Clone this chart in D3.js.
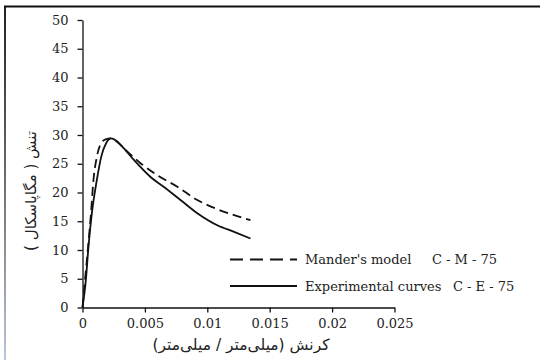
<!DOCTYPE html>
<html>
<head>
<meta charset="utf-8">
<script src="https://cdn.jsdelivr.net/npm/d3@7"></script>
<style>
  body { margin: 0; background: #fff; }
  svg { display: block; }
</style>
</head>
<body>
<script>
// Mander's model C-M-75 (strain, stress MPa)
const manderStrain = [0, 0.0002, 0.00045, 0.00068, 0.00088, 0.00115, 0.0015, 0.0019, 0.0022, 0.00265, 0.00345, 0.00465, 0.006, 0.0076, 0.0092, 0.0108, 0.0121, 0.01346];
const manderStress = [0, 4.8, 10.6, 16.4, 22.2, 26.2, 28.6, 29.3, 29.4, 29.0, 27.4, 25.1, 23.0, 21.0, 18.7, 17.1, 16.1, 15.2];

// Experimental curves C-E-75
const expStrain = [0, 0.00027, 0.00048, 0.00075, 0.00115, 0.0015, 0.0019, 0.0023, 0.0027, 0.0033, 0.0041, 0.00545, 0.0065, 0.00785, 0.0092, 0.0108, 0.0121, 0.01346];
const expStress = [0, 4.8, 10.6, 16.4, 22.2, 26.2, 28.6, 29.4, 29.0, 27.7, 25.7, 22.7, 21.0, 18.7, 16.4, 14.3, 13.2, 12.0];

const xTicks = [0, 0.005, 0.01, 0.015, 0.02, 0.025];
const yTicks = [0, 5, 10, 15, 20, 25, 30, 35, 40, 45, 50];

const seriesNames = ["Mander's model", "Experimental curves"];
const seriesCodes = ["C - M - 75", "C - E - 75"];

const SERIF = "DejaVu Serif";
const FA = "DejaVu Sans";

const W = 540, H = 360;
const svg = d3.select("body").append("svg").attr("width", W).attr("height", H);

// frame (top + left edge, left fades out)
const defs = svg.append("defs");
const grad = defs.append("linearGradient").attr("id", "leftEdge")
  .attr("x1", 0).attr("y1", 0).attr("x2", 0).attr("y2", 1);
grad.append("stop").attr("offset", "0%").attr("stop-color", "#222");
grad.append("stop").attr("offset", "45%").attr("stop-color", "#666");
grad.append("stop").attr("offset", "100%").attr("stop-color", "#b9c6da");
svg.append("rect").attr("x", 4).attr("y", 6).attr("width", 2).attr("height", H - 6).attr("fill", "url(#leftEdge)");
svg.append("line").attr("x1", 4).attr("x2", W).attr("y1", 6.5).attr("y2", 6.5)
  .attr("stroke", "#111").attr("stroke-width", 2);

const x = d3.scaleLinear().domain([0, 0.025]).range([82.5, 394.5]);
const y = d3.scaleLinear().domain([0, 50]).range([307.5, 20]);

// axes
const xAxis = svg.append("g").attr("transform", `translate(0,${y(0)})`)
  .call(d3.axisBottom(x).tickValues(xTicks).tickSize(5).tickSizeOuter(0).tickFormat(d => String(+d.toFixed(3))));
const yAxis = svg.append("g").attr("transform", `translate(${x(0)},0)`)
  .call(d3.axisLeft(y).tickValues(yTicks).tickSize(5).tickSizeOuter(0).tickFormat(d3.format("d")));
[xAxis, yAxis].forEach(g => {
  g.attr("font-family", SERIF).attr("font-size", 13);
  g.select(".domain").attr("stroke", "#111").attr("stroke-width", 1.3);
  g.selectAll(".tick line").attr("stroke", "#111").attr("stroke-width", 1.3);
  g.selectAll(".tick text").attr("fill", "#222");
});
xAxis.selectAll(".tick text").attr("dy", "0.55em").attr("y", 13);
yAxis.selectAll(".tick text").attr("x", -14);

// curves
const line = d3.line().x(d => x(d[0])).y(d => y(d[1])).curve(d3.curveMonotoneX);
const mander = manderStrain.map((s, i) => [s, manderStress[i]]);
const exp = expStrain.map((s, i) => [s, expStress[i]]);

svg.append("path").datum(mander).attr("d", line).attr("fill", "none")
  .attr("stroke", "#111").attr("stroke-width", 1.8).attr("stroke-dasharray", "9,5");
svg.append("path").datum(exp).attr("d", line).attr("fill", "none")
  .attr("stroke", "#111").attr("stroke-width", 1.8);

// legend
const legendY = [259.5, 286];
const legendCodeX = [432, 453];
legendY.forEach((ly, i) => {
  svg.append("line").attr("x1", 230).attr("x2", 297).attr("y1", ly).attr("y2", ly)
    .attr("stroke", "#111").attr("stroke-width", 1.8)
    .attr("stroke-dasharray", i === 0 ? "13,7" : null);
  svg.append("text").attr("font-family", SERIF).attr("font-size", 13).attr("fill", "#222")
    .attr("x", 305).attr("y", ly).attr("dy", "0.35em")
    .text(seriesNames[i]);
  svg.append("text").attr("font-family", SERIF).attr("font-size", 13).attr("fill", "#222")
    .attr("x", legendCodeX[i]).attr("y", ly).attr("dy", "0.35em")
    .text(seriesCodes[i]);
});

// axis titles (Persian)
svg.append("text").attr("font-family", FA).attr("font-size", 15.5).attr("fill", "#222")
  .attr("direction", "rtl").attr("text-anchor", "middle").attr("x", 241).attr("y", 350)
  .text("کرنش (میلی‌متر / میلی‌متر)");
svg.append("text").attr("font-family", FA).attr("font-size", 15).attr("fill", "#222")
  .attr("direction", "rtl").attr("text-anchor", "middle")
  .attr("transform", "translate(36,191) rotate(-90)")
  .text("تنش ( مگاپاسکال )");
</script>
</body>
</html>
